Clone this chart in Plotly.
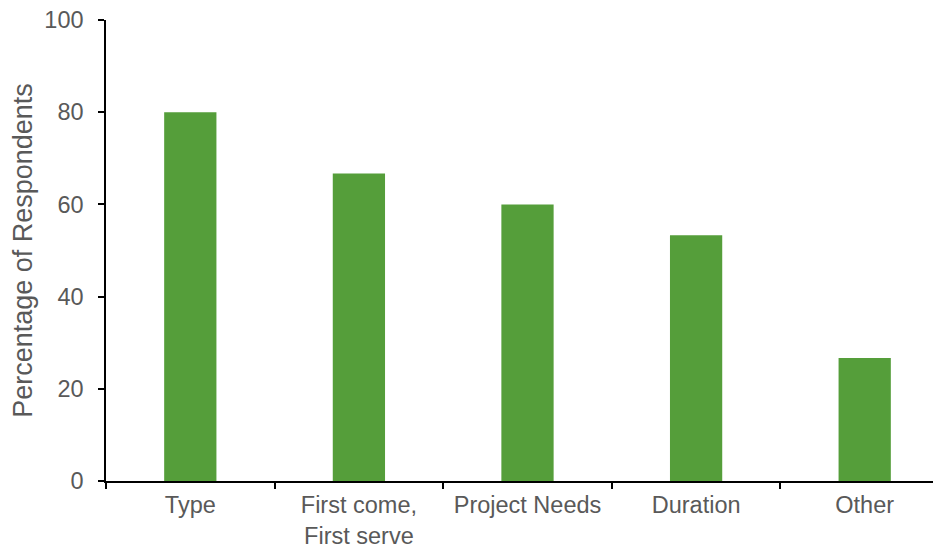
import plotly.graph_objects as go

categories = ["Type", "First come,<br>First serve", "Project Needs", "Duration", "Other"]
values = [80, 66.7, 60, 53.3, 26.7]
y_ticks = [0, 20, 40, 60, 80, 100]

fig = go.Figure(go.Bar(x=categories, y=values, marker=dict(color="#559E3A", line=dict(width=0))))

tick_font = dict(family="Liberation Sans, Arial, sans-serif", size=23.5, color="#595959")
title_font = dict(family="Liberation Sans, Arial, sans-serif", size=27, color="#595959")
fig.update_layout(
    width=941, height=546,
    margin=dict(l=98, r=0, t=12, b=73),
    paper_bgcolor="white", plot_bgcolor="white",
    bargap=0.69,
    font=tick_font,
    showlegend=False,
)
fig.update_xaxes(
    range=[-0.5, 4.5], automargin=False,
    showline=True, linecolor="black", linewidth=1.5,
    ticks="outside", tickson="boundaries", ticklen=6, tickcolor="black", tickwidth=1.5,
    showgrid=False, tickfont=tick_font, ticklabelstandoff=2,
    ticklabeloverflow="allow",
)
fig.update_yaxes(
    range=[0, 100], tickvals=y_ticks, automargin=False,
    showline=True, linecolor="black", linewidth=1.5,
    ticks="outside", ticklen=6, tickcolor="black", tickwidth=1.5,
    showgrid=False, zeroline=False, tickfont=tick_font,
    ticklabelstandoff=10, ticklabeloverflow="allow",
    title=dict(text="Percentage of Respondents", font=title_font, standoff=10),
)
fig.write_html("out.html")
